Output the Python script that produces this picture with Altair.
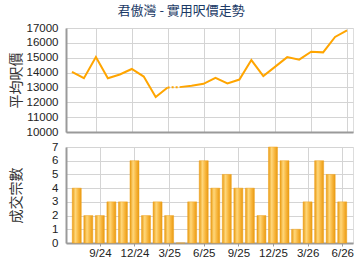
import altair as alt
import pandas as pd

months = ["7/24", "8/24", "9/24", "10/24", "11/24", "12/24", "1/25", "2/25", "3/25",
          "4/25", "5/25", "6/25", "7/25", "8/25", "9/25", "10/25", "11/25", "12/25",
          "1/26", "2/26", "3/26", "4/26", "5/26", "6/26"]
price = [14050, 13620, 15040, 13620, 13870, 14240, 13730, 12360, 13000,
         13020, 13120, 13240, 13640, 13270, 13530, 14840, 13760, 14400,
         15040, 14870, 15400, 15360, 16400, 16840]
deals = [4, 2, 2, 3, 3, 6, 2, 3, 2, 0, 3, 6, 4, 5, 4, 4, 2, 7, 6, 1, 3, 6, 5, 3]
tick_months = ["9/24", "12/24", "3/25", "6/25", "9/25", "12/25", "3/26", "6/26"]
price_ticks = [10000, 11000, 12000, 13000, 14000, 15000, 16000, 17000]
deal_ticks = [0, 1, 2, 3, 4, 5, 6, 7]
title_text = "君傲灣 - 實用呎價走勢"

df = pd.DataFrame({"i": list(range(len(months))), "m": months, "p": price, "n": deals})
gap = months.index("4/25")
tick_idx = [months.index(m) for m in tick_months]
lbl_expr = "[" + ",".join(f"'{m}'" for m in months) + "][datum.value]"

FONT = "Liberation Sans"
CJK = "Noto Sans CJK TC"
W = 287
xscale = alt.Scale(domain=[-0.5, len(months) - 0.5], nice=False, zero=False)

common_y_axis = dict(
    labelFont=FONT, labelFontSize=11.5, labelColor="#222", labelPadding=8, format="d",
    ticks=False, grid=True, gridColor="#d4d4d4", domainColor="#9a9a9a", domainWidth=2,
    titleFont=CJK, titleFontSize=14, titleFontWeight="normal", titleColor="#333",
    titleX=-43,
)

x_top = alt.X("i:Q", scale=xscale, axis=alt.Axis(
    values=tick_idx, labels=False, ticks=False, grid=True, gridColor="#d4d4d4",
    domainColor="#9a9a9a", domainWidth=2, title=None))
y_top = alt.Y("p:Q", scale=alt.Scale(domain=[10000, 17000], nice=False, zero=False),
              axis=alt.Axis(values=price_ticks, title="平均呎價", **common_y_axis))

base = alt.Chart(df)
line_a = base.mark_line(color="#ffa500", strokeWidth=2).encode(x=x_top, y=y_top).transform_filter(
    alt.datum.i < gap)
line_b = base.mark_line(color="#ffa500", strokeWidth=2).encode(x=x_top, y=y_top).transform_filter(
    alt.datum.i >= gap)
line_d = base.mark_line(color="#ffa500", strokeWidth=2, strokeDash=[2, 2]).encode(
    x=x_top, y=y_top).transform_filter((alt.datum.i >= gap - 1) & (alt.datum.i <= gap))
top = alt.layer(line_a, line_b, line_d).properties(width=W, height=104)

x_bot = alt.X("i:Q", scale=xscale, axis=alt.Axis(
    values=tick_idx, labelExpr=lbl_expr, labelFont=FONT, labelFontSize=11.5, labelColor="#222",
    ticks=True, tickSize=3, tickColor="#9a9a9a", grid=True, gridColor="#d4d4d4",
    domainColor="#9a9a9a", domainWidth=2, title=None, labelPadding=1))
y_bot = alt.Y("n:Q", scale=alt.Scale(domain=[0, 7], nice=False),
              axis=alt.Axis(values=deal_ticks, title="成交宗數", **common_y_axis))

grad = alt.Gradient(gradient="linear", x1=0, x2=1, y1=0, y2=0, stops=[
    alt.GradientStop(color="#e89a12", offset=0),
    alt.GradientStop(color="#ffd77a", offset=0.35),
    alt.GradientStop(color="#f7b43a", offset=0.7),
    alt.GradientStop(color="#e89a12", offset=1),
])
bars = base.mark_bar(size=9, color=grad, stroke="#f0a31c", strokeWidth=0.5).encode(x=x_bot, y=y_bot)
bottom = bars.properties(width=W, height=96)

chart = alt.vconcat(top, bottom, spacing=2).properties(
    title=alt.TitleParams(title_text, font=CJK, fontSize=13, fontWeight="normal",
                          color="#1b3a66", anchor="middle", frame="bounds", offset=4),
    padding={"left": 8, "top": 4, "right": 4, "bottom": 4},
).configure_view(stroke=None).configure(background="white")

chart.save("out.html", embed_options={"renderer": "svg", "actions": False})
